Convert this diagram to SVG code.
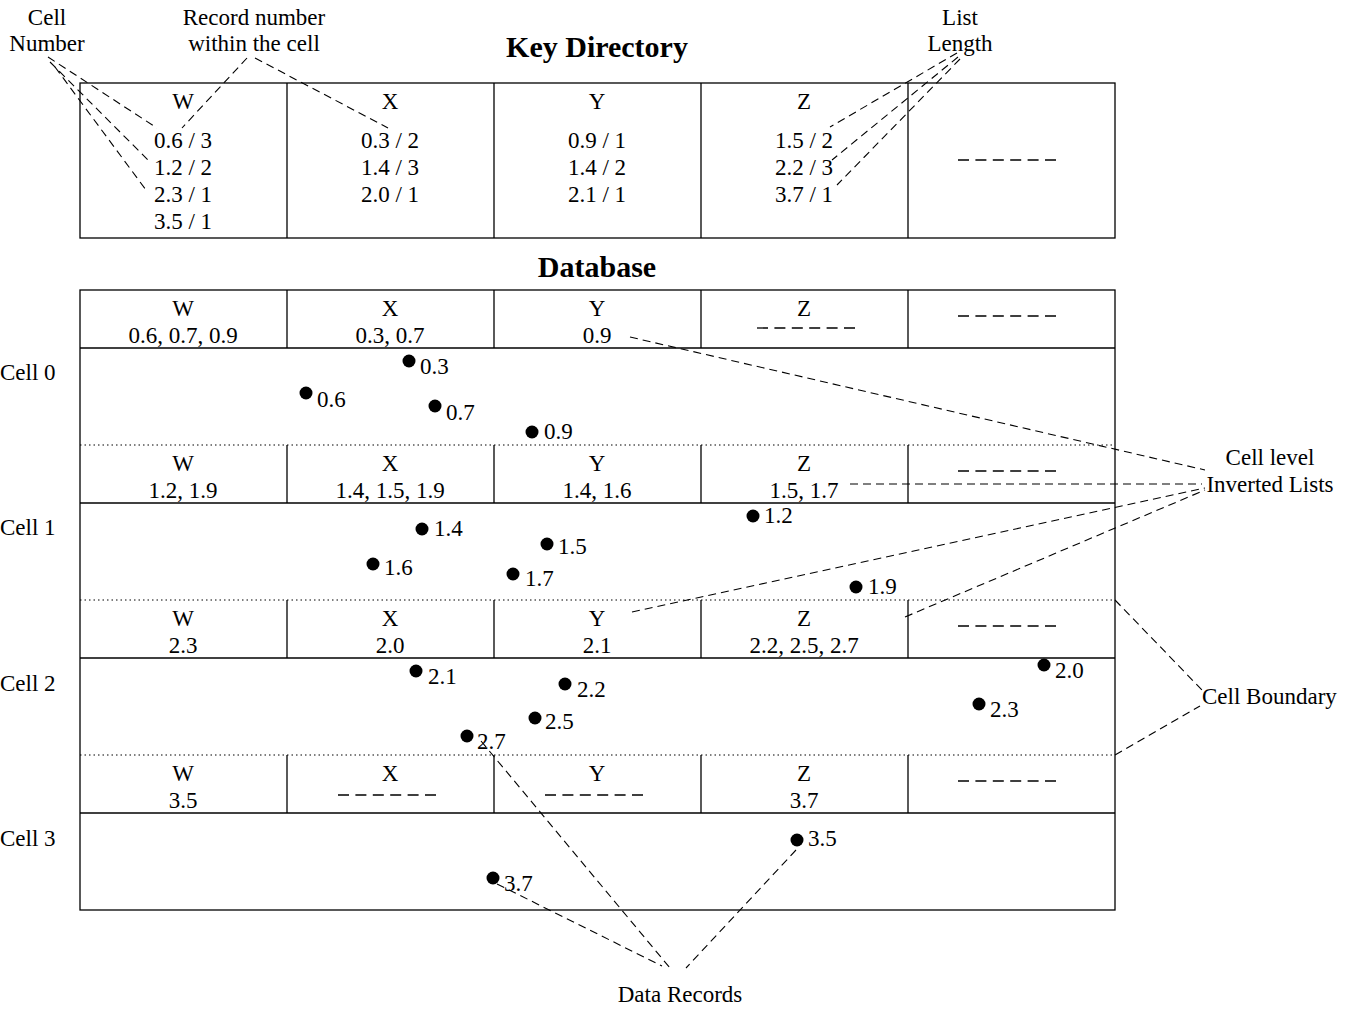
<svg xmlns="http://www.w3.org/2000/svg" width="1358" height="1009" viewBox="0 0 1358 1009">
<style>
text{font-family:"Liberation Serif","Times New Roman",serif;font-size:23px;fill:#000}
.c{text-anchor:middle}
.t{font-weight:bold;font-size:30px;text-anchor:middle}
.box{fill:none;stroke:#000;stroke-width:1.3}
.ln{stroke:#000;stroke-width:1.3}
.dot{stroke:#000;stroke-width:1;stroke-dasharray:1.5 3}
.dash{fill:none;stroke:#000;stroke-width:1.1;stroke-dasharray:8 5}
.ph{fill:none;stroke:#000;stroke-width:1.3;stroke-dasharray:11 6.4}
.pt{fill:#000}
</style>
<rect width="1358" height="1009" fill="#fff"/>

<g id="labels-top">
<text class="c" x="47" y="25">Cell</text>
<text class="c" x="47" y="51">Number</text>
<text class="c" x="254" y="25">Record number</text>
<text class="c" x="254" y="51">within the cell</text>
<text class="c" x="960" y="25">List</text>
<text class="c" x="960" y="51">Length</text>
<text class="t" x="597" y="57">Key Directory</text>
<text class="t" x="597" y="277">Database</text>
</g>

<g id="key-directory">
<rect class="box" x="80" y="83" width="1035" height="155"/>
<line class="ln" x1="287" y1="83" x2="287" y2="238"/>
<line class="ln" x1="494" y1="83" x2="494" y2="238"/>
<line class="ln" x1="701" y1="83" x2="701" y2="238"/>
<line class="ln" x1="908" y1="83" x2="908" y2="238"/>
<text class="c" x="183" y="109">W</text>
<text class="c" x="183" y="148">0.6 / 3</text>
<text class="c" x="183" y="175">1.2 / 2</text>
<text class="c" x="183" y="202">2.3 / 1</text>
<text class="c" x="183" y="229">3.5 / 1</text>
<text class="c" x="390" y="109">X</text>
<text class="c" x="390" y="148">0.3 / 2</text>
<text class="c" x="390" y="175">1.4 / 3</text>
<text class="c" x="390" y="202">2.0 / 1</text>
<text class="c" x="597" y="109">Y</text>
<text class="c" x="597" y="148">0.9 / 1</text>
<text class="c" x="597" y="175">1.4 / 2</text>
<text class="c" x="597" y="202">2.1 / 1</text>
<text class="c" x="804" y="109">Z</text>
<text class="c" x="804" y="148">1.5 / 2</text>
<text class="c" x="804" y="175">2.2 / 3</text>
<text class="c" x="804" y="202">3.7 / 1</text>
<line class="ph" x1="958" y1="160" x2="1056" y2="160"/>
</g>

<g id="database">
<rect class="box" x="80" y="290" width="1035" height="620"/>
<line class="ln" x1="80" y1="348" x2="1115" y2="348"/>
<line class="ln" x1="80" y1="503" x2="1115" y2="503"/>
<line class="ln" x1="80" y1="658" x2="1115" y2="658"/>
<line class="ln" x1="80" y1="813" x2="1115" y2="813"/>
<line class="dot" x1="80" y1="445" x2="1115" y2="445"/>
<line class="dot" x1="80" y1="600" x2="1115" y2="600"/>
<line class="dot" x1="80" y1="755" x2="1115" y2="755"/>
<g class="ln">
<line x1="287" y1="290" x2="287" y2="348"/><line x1="494" y1="290" x2="494" y2="348"/><line x1="701" y1="290" x2="701" y2="348"/><line x1="908" y1="290" x2="908" y2="348"/>
<line x1="287" y1="445" x2="287" y2="503"/><line x1="494" y1="445" x2="494" y2="503"/><line x1="701" y1="445" x2="701" y2="503"/><line x1="908" y1="445" x2="908" y2="503"/>
<line x1="287" y1="600" x2="287" y2="658"/><line x1="494" y1="600" x2="494" y2="658"/><line x1="701" y1="600" x2="701" y2="658"/><line x1="908" y1="600" x2="908" y2="658"/>
<line x1="287" y1="755" x2="287" y2="813"/><line x1="494" y1="755" x2="494" y2="813"/><line x1="701" y1="755" x2="701" y2="813"/><line x1="908" y1="755" x2="908" y2="813"/>
</g>
</g>

<g id="header-cell0">
<text class="c" x="183" y="316">W</text><text class="c" x="183" y="343">0.6, 0.7, 0.9</text>
<text class="c" x="390" y="316">X</text><text class="c" x="390" y="343">0.3, 0.7</text>
<text class="c" x="597" y="316">Y</text><text class="c" x="597" y="343">0.9</text>
<text class="c" x="804" y="316">Z</text>
<line class="ph" x1="757" y1="328" x2="856" y2="328"/>
<line class="ph" x1="958" y1="316" x2="1056" y2="316"/>
</g>
<g id="header-cell1">
<text class="c" x="183" y="471">W</text><text class="c" x="183" y="498">1.2, 1.9</text>
<text class="c" x="390" y="471">X</text><text class="c" x="390" y="498">1.4, 1.5, 1.9</text>
<text class="c" x="597" y="471">Y</text><text class="c" x="597" y="498">1.4, 1.6</text>
<text class="c" x="804" y="471">Z</text><text class="c" x="804" y="498">1.5, 1.7</text>
<line class="ph" x1="958" y1="471" x2="1056" y2="471"/>
</g>
<g id="header-cell2">
<text class="c" x="183" y="626">W</text><text class="c" x="183" y="653">2.3</text>
<text class="c" x="390" y="626">X</text><text class="c" x="390" y="653">2.0</text>
<text class="c" x="597" y="626">Y</text><text class="c" x="597" y="653">2.1</text>
<text class="c" x="804" y="626">Z</text><text class="c" x="804" y="653">2.2, 2.5, 2.7</text>
<line class="ph" x1="958" y1="626" x2="1056" y2="626"/>
</g>
<g id="header-cell3">
<text class="c" x="183" y="781">W</text><text class="c" x="183" y="808">3.5</text>
<text class="c" x="390" y="781">X</text>
<line class="ph" x1="338" y1="795" x2="436" y2="795"/>
<text class="c" x="597" y="781">Y</text>
<line class="ph" x1="545" y1="795" x2="643" y2="795"/>
<text class="c" x="804" y="781">Z</text><text class="c" x="804" y="808">3.7</text>
<line class="ph" x1="958" y1="781" x2="1056" y2="781"/>
</g>

<g id="cell-labels">
<text x="0" y="380">Cell 0</text>
<text x="0" y="535">Cell 1</text>
<text x="0" y="691">Cell 2</text>
<text x="0" y="846">Cell 3</text>
</g>

<g id="records-cell0">
<circle class="pt" cx="409" cy="361" r="6.5"/><text x="420" y="374">0.3</text>
<circle class="pt" cx="306" cy="393" r="6.5"/><text x="317" y="407">0.6</text>
<circle class="pt" cx="435" cy="406" r="6.5"/><text x="446" y="420">0.7</text>
<circle class="pt" cx="532" cy="432" r="6.5"/><text x="544" y="439">0.9</text>
</g>
<g id="records-cell1">
<circle class="pt" cx="422" cy="529" r="6.5"/><text x="434" y="536">1.4</text>
<circle class="pt" cx="547" cy="544" r="6.5"/><text x="558" y="554">1.5</text>
<circle class="pt" cx="373" cy="564" r="6.5"/><text x="384" y="575">1.6</text>
<circle class="pt" cx="513" cy="574" r="6.5"/><text x="525" y="586">1.7</text>
<circle class="pt" cx="753" cy="516" r="6.5"/><text x="764" y="523">1.2</text>
<circle class="pt" cx="856" cy="587" r="6.5"/><text x="868" y="594">1.9</text>
</g>
<g id="records-cell2">
<circle class="pt" cx="416" cy="671" r="6.5"/><text x="428" y="684">2.1</text>
<circle class="pt" cx="565" cy="684" r="6.5"/><text x="577" y="697">2.2</text>
<circle class="pt" cx="535" cy="718" r="6.5"/><text x="545" y="729">2.5</text>
<circle class="pt" cx="467" cy="736" r="6.5"/><text x="477" y="749">2.7</text>
<circle class="pt" cx="1044" cy="665" r="6.5"/><text x="1055" y="678">2.0</text>
<circle class="pt" cx="979" cy="704" r="6.5"/><text x="990" y="717">2.3</text>
</g>
<g id="records-cell3">
<circle class="pt" cx="797" cy="840" r="6.5"/><text x="808" y="846">3.5</text>
<circle class="pt" cx="493" cy="878" r="6.5"/><text x="504" y="891">3.7</text>
</g>

<g id="labels-right">
<text class="c" x="1270" y="465">Cell level</text>
<text class="c" x="1270" y="492">Inverted Lists</text>
<text x="1202" y="704">Cell Boundary</text>
<text class="c" x="680" y="1002">Data Records</text>
</g>

<g id="connectors">
<line class="dash" x1="48" y1="57" x2="157" y2="128"/>
<line class="dash" x1="50" y1="62" x2="151" y2="163"/>
<line class="dash" x1="55" y1="67" x2="146" y2="190"/>
<line class="dash" x1="247" y1="58" x2="182" y2="128"/>
<line class="dash" x1="255" y1="58" x2="388" y2="128"/>
<line class="dash" x1="957" y1="53" x2="830" y2="127"/>
<line class="dash" x1="958" y1="57" x2="832" y2="160"/>
<line class="dash" x1="960" y1="59" x2="837" y2="185"/>
<line class="dash" x1="630" y1="337" x2="1205" y2="470"/>
<line class="dash" x1="850" y1="484" x2="1202" y2="484"/>
<line class="dash" x1="632" y1="612" x2="1205" y2="488"/>
<line class="dash" x1="905" y1="617" x2="1205" y2="490"/>
<line class="dash" x1="1115" y1="600" x2="1202" y2="690"/>
<line class="dash" x1="1115" y1="755" x2="1200" y2="706"/>
<line class="dash" x1="481" y1="741" x2="670" y2="968"/>
<line class="dash" x1="497" y1="884" x2="662" y2="966"/>
<line class="dash" x1="796" y1="850" x2="686" y2="968"/>
</g>
</svg>
